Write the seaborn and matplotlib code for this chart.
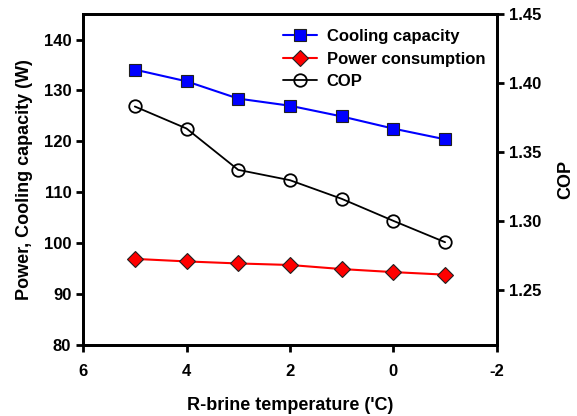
import matplotlib
matplotlib.use("Agg")
import matplotlib.pyplot as plt
import pandas as pd
import seaborn as sns

# R-brine temperature (°C)
temperature = [5, 4, 3, 2, 1, 0, -1]
cooling_capacity = [134.1, 131.8, 128.4, 127.0, 124.9, 122.5, 120.4]
power_consumption = [96.9, 96.4, 96.0, 95.7, 94.9, 94.3, 93.8]
cop = [1.383, 1.367, 1.337, 1.3295, 1.316, 1.300, 1.2845]

left_ticks = [80, 90, 100, 110, 120, 130, 140]
right_ticks = [1.25, 1.30, 1.35, 1.40, 1.45]
x_ticks = [6, 4, 2, 0, -2]

sns.set_style("ticks")
plt.rcParams["font.family"] = ["Liberation Sans", "DejaVu Sans"]
plt.rcParams["font.weight"] = "bold"
plt.rcParams["axes.unicode_minus"] = False
plt.rcParams["text.color"] = "black"
plt.rcParams["axes.labelcolor"] = "black"

df = pd.DataFrame({
    "temp": temperature,
    "cooling": cooling_capacity,
    "power": power_consumption,
    "cop": cop,
})

fig = plt.figure(figsize=(5.77, 4.16), dpi=100)
ax = fig.add_axes([0.144, 0.171, 0.717, 0.795])
ax2 = ax.twinx()

sns.lineplot(data=df, x="temp", y="cooling", ax=ax, color="#0000ff", lw=1.5,
             marker="s", markersize=8, markerfacecolor="#0000ff",
             markeredgecolor="#202020", markeredgewidth=0.8,
             label="Cooling capacity", legend=False)
sns.lineplot(data=df, x="temp", y="power", ax=ax, color="#ff0000", lw=1.5,
             marker="D", markersize=8, markerfacecolor="#ff0000",
             markeredgecolor="#202020", markeredgewidth=0.8,
             label="Power consumption", legend=False)
sns.lineplot(data=df, x="temp", y="cop", ax=ax2, color="black", lw=1.3,
             marker="o", markersize=9, markerfacecolor="none",
             markeredgecolor="black", markeredgewidth=1.3,
             label="COP", legend=False)

ax.set_xlim(6, -2)
ax.set_ylim(80, 145)
ax2.set_ylim(1.21, 1.45)
ax.set_xticks(x_ticks)
ax.set_yticks(left_ticks)
ax2.set_yticks(right_ticks)
ax2.set_yticklabels([f"{t:.2f}" for t in right_ticks])

for a in (ax, ax2):
    for s in a.spines.values():
        s.set_linewidth(2)
        s.set_color("black")
    a.tick_params(direction="out", width=2, length=5, labelsize=12,
                  colors="black", labelcolor="black")
    for lbl in a.get_xticklabels() + a.get_yticklabels():
        lbl.set_fontweight("bold")
ax.tick_params(axis="x", pad=9)

ax.set_xlabel("R-brine temperature ('C)", fontsize=13, fontweight="bold", labelpad=13)
ax.set_ylabel("Power, Cooling capacity (W)", fontsize=13, fontweight="bold", labelpad=8)
ax2.set_ylabel("COP", fontsize=13, fontweight="bold", labelpad=12)

h1, l1 = ax.get_legend_handles_labels()
h2, l2 = ax2.get_legend_handles_labels()
ax.legend(h1 + h2, l1 + l2, loc="upper right", bbox_to_anchor=(1.0, 0.99),
          frameon=False, handlelength=2.0, handletextpad=0.6, labelspacing=0.45,
          borderaxespad=0.3, prop={"weight": "bold", "size": 12})
ax.set_zorder(ax2.get_zorder() + 1)
ax.patch.set_visible(False)

fig.savefig("out.png", dpi=100)
